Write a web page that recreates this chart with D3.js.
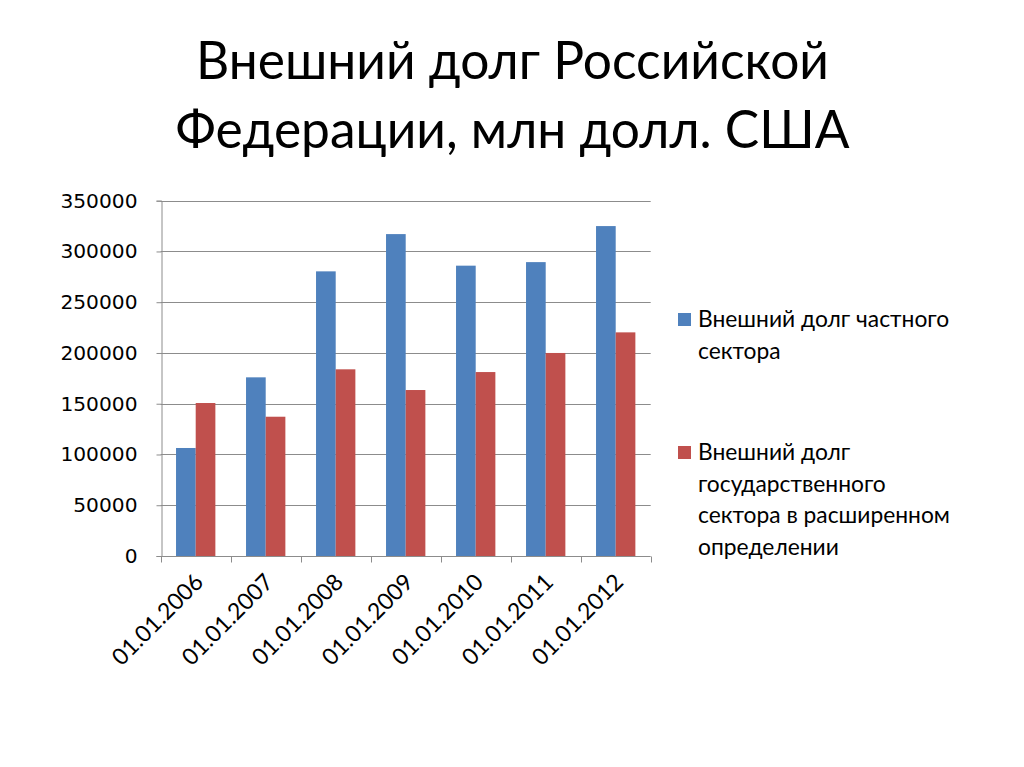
<!DOCTYPE html>
<html><head><meta charset="utf-8">
<script src="https://cdn.jsdelivr.net/npm/d3@7/dist/d3.min.js"></script>
<style>body{margin:0;background:#fff}</style>
</head><body>
<script>
const categories = ["01.01.2006","01.01.2007","01.01.2008","01.01.2009","01.01.2010","01.01.2011","01.01.2012"];
const seriesNames = ["Внешний долг частного сектора","Внешний долг государственного сектора в расширенном определении"];
const privateDebt = [106400, 176000, 280400, 317100, 286000, 289500, 325000];
const stateDebt   = [150700, 137200, 183900, 163500, 181200, 200000, 220300];
const yTicks = [0, 50000, 100000, 150000, 200000, 250000, 300000, 350000];
const titleLines = ["Внешний долг Российской","Федерации, млн долл. США"];
const legendLines = [["Внешний долг частного","сектора"],["Внешний долг","государственного","сектора в расширенном","определении"]];
const colors = ["#4F81BD","#C0504D"];

(function(){
const W=1024,H=767;
const svg=d3.select("body").append("svg").attr("width",W).attr("height",H);
const pLeft=160.7,pRight=650.7,pTop=200.7,pBottom=556;
const x0=d3.scaleBand().domain(categories).range([pLeft,pRight]).padding(0);
const bw=x0.bandwidth();
const x1=d3.scaleBand().domain([0,1]).range([bw*0.219,bw*0.781]).padding(0);
const y=d3.scaleLinear().domain([0,350000]).range([pBottom,pTop]);

const titleFont="Lato, 'Open Sans', sans-serif";
svg.append("g").selectAll("text").data(titleLines).join("text")
  .attr("x",512.5).attr("y",(d,i)=>79+i*69)
  .attr("text-anchor","middle").attr("font-family",titleFont)
  .attr("font-size",51.5).attr("fill","#000").text(d=>d);

svg.append("g").selectAll("line").data(yTicks.filter(d=>d>0)).join("line")
  .attr("x1",pLeft).attr("x2",pRight).attr("y1",d=>Math.round(y(d))+0.5).attr("y2",d=>Math.round(y(d))+0.5)
  .attr("stroke","#8c8c8c").attr("stroke-width",1);

const data=categories.map((c,i)=>({c,v:[privateDebt[i],stateDebt[i]]}));
svg.append("g").selectAll("g").data(data).join("g")
  .attr("transform",d=>`translate(${x0(d.c)},0)`)
  .selectAll("rect").data(d=>d.v.map((v,k)=>({v,k}))).join("rect")
  .attr("x",d=>x1(d.k)).attr("width",x1.bandwidth())
  .attr("y",d=>y(d.v)).attr("height",d=>pBottom-y(d.v))
  .attr("fill",d=>colors[d.k]);

const yAxis=d3.axisLeft(y).tickValues(yTicks).tickSize(5).tickPadding(19).tickFormat(d3.format("d"));
const gy=svg.append("g").attr("transform",`translate(${Math.round(pLeft)+0.5},0)`).call(yAxis);
gy.select(".domain").attr("stroke","#8c8c8c");
gy.selectAll(".tick line").attr("stroke","#8c8c8c");
gy.selectAll(".tick text").attr("font-family","'DejaVu Sans', sans-serif").attr("font-size",20.2).attr("fill","#000");

const gx=svg.append("g").attr("transform",`translate(0,${Math.round(pBottom)+0.5})`);
gx.append("line").attr("x1",pLeft).attr("x2",pRight).attr("stroke","#8c8c8c");
const bounds=categories.map(c=>x0(c)).concat([pRight]);
gx.selectAll("line.t").data(bounds).join("line").attr("class","t")
  .attr("x1",d=>Math.round(d)+0.5).attr("x2",d=>Math.round(d)+0.5).attr("y1",0).attr("y2",6)
  .attr("stroke","#8c8c8c");
gx.selectAll("text").data(categories).join("text")
  .attr("transform",d=>`translate(${x0(d)+bw/2+9},${27}) rotate(-45)`)
  .attr("text-anchor","end").attr("font-family",titleFont).attr("font-size",23)
  .attr("fill","#000").text(d=>d);

const lg=svg.append("g");
const legTops=[313,446];
legendLines.forEach((lines,k)=>{
  lg.append("rect").attr("x",678).attr("y",legTops[k]).attr("width",13).attr("height",13).attr("fill",colors[k]);
  lg.append("g").selectAll("text").data(lines).join("text")
    .attr("x",698).attr("y",(d,i)=>legTops[k]+14+i*31.5)
    .attr("font-family",titleFont).attr("font-size",22.8).attr("fill","#000").text(d=>d);
});
})();
</script>
</body></html>
